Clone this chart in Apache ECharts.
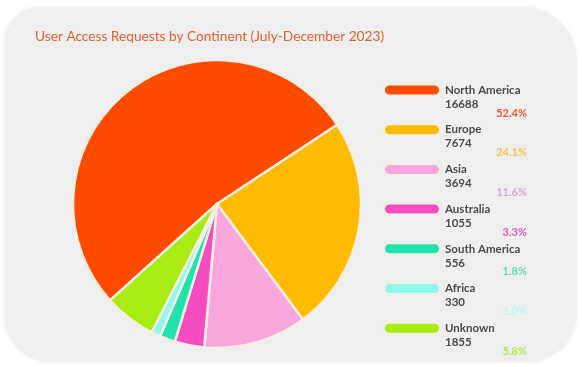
<!DOCTYPE html>
<html>
<head>
<meta charset="utf-8">
<script src="https://cdn.jsdelivr.net/npm/echarts@6/dist/echarts.min.js"></script>
<style>
html,body{margin:0;padding:0;background:#ffffff;}
#chart{width:582px;height:367px;}
</style>
</head>
<body>
<div id="chart"></div>
<script>
const categories = ['North America', 'Europe', 'Asia', 'Australia', 'South America', 'Africa', 'Unknown'];
const requestCounts = [16688, 7674, 3694, 1055, 556, 330, 1855];
const percentLabels = ['52.4%', '24.1%', '11.6%', '3.3%', '1.8%', '1.0%', '5.8%'];
const sliceColors = ['#ff4b00', '#ffbb00', '#f9a6dd', '#f54cc0', '#1ee3ac', '#8ff8e8', '#a8ec14'];
const pctColors = ['#e85a35', '#f3c94a', '#dda6d8', '#d95bbf', '#5fdcb8', '#b9f6ee', '#b2e84a'];

const chart = echarts.init(document.getElementById('chart'), null, {renderer: 'canvas'});

const rich = {
  e: {fontSize: 10, lineHeight: 18},
  n: {fontSize: 11.5, fontWeight: 'bold', color: '#4a4a4a', lineHeight: 14, fontFamily: 'Lato'},
  v: {fontSize: 11.5, fontWeight: 'bold', color: '#4a4a4a', lineHeight: 14, fontFamily: 'Lato'}
};
percentLabels.forEach(function (p, i) {
  rich['p' + i] = {fontSize: 11, fontWeight: 'bold', color: pctColors[i], lineHeight: 4, width: 82, align: 'right', fontFamily: 'Lato'};
});

const option = {
  backgroundColor: '#ffffff',
  animation: false,
  graphic: [{
    type: 'rect',
    z: -10,
    shape: {x: 5, y: 7, width: 572, height: 355, r: [35, 55, 50, 45]},
    style: {fill: '#efefef', shadowBlur: 4, shadowColor: 'rgba(0,0,0,0.08)'}
  }],
  title: {
    text: 'User Access Requests by Continent (July-December 2023)',
    left: 35,
    top: 30,
    padding: 0,
    textStyle: {fontFamily: 'Lato', fontSize: 13.7, fontWeight: 'normal', color: '#e2622f'}
  },
  legend: {
    orient: 'vertical',
    left: 383,
    top: 69,
    padding: 0,
    itemGap: -9.8,
    itemWidth: 56,
    itemHeight: 11,
    selectedMode: false,
    icon: 'path://M5.5,0H50.5A5.5,5.5,0,0,1,50.5,11H5.5A5.5,5.5,0,0,1,5.5,0Z',
    data: categories,
    formatter: function (name) {
      const i = categories.indexOf(name);
      return '{e| }\n{n|' + name + '}\n{v|' + requestCounts[i] + '}\n{p' + i + '|' + percentLabels[i] + '}';
    },
    textStyle: {rich: rich}
  },
  series: [{
    type: 'pie',
    center: [217, 204],
    radius: 144,
    startAngle: 222,
    clockwise: true,
    label: {show: false},
    labelLine: {show: false},
    itemStyle: {borderColor: '#f3efe4', borderWidth: 2.5},
    data: categories.map(function (c, i) {
      return {name: c, value: requestCounts[i], itemStyle: {color: sliceColors[i]}};
    })
  }]
};
chart.setOption(option);
</script>
</body>
</html>
